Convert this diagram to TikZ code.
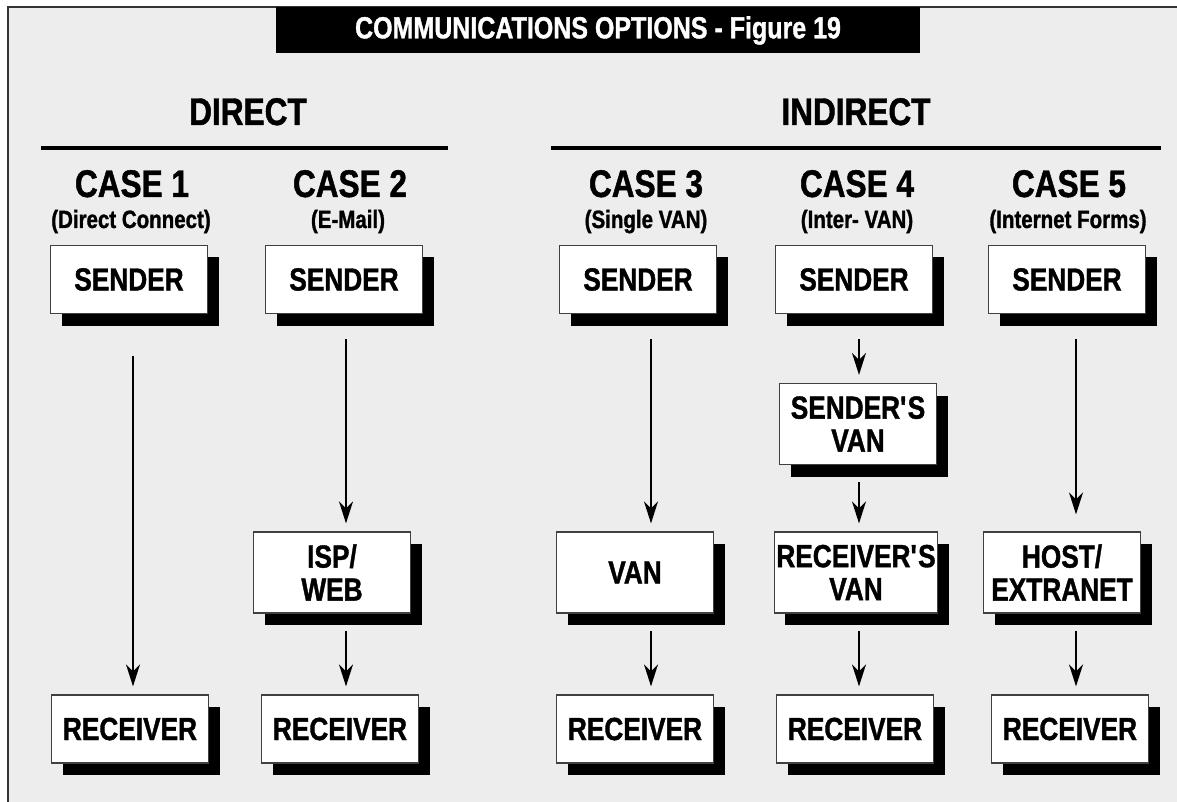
\documentclass[tikz,border=0pt]{standalone}
\usepackage{fontspec}
\setmainfont{Liberation Sans}[FakeStretch=0.82, BoldFeatures={FakeBold=1.2}]
\usetikzlibrary{positioning, arrows.meta, shadows}

\begin{document}
\begin{tikzpicture}[x=1pt, y=-1pt,
      >={Stealth[length=22pt, width=14pt, inset=7pt]},
      box/.style={draw=black!75, line width=1.2pt, fill=white, align=center,
        minimum width=157pt, minimum height=68pt, inner sep=2pt,
        font=\fontsize{32}{33}\selectfont\bfseries,
        drop shadow={shadow xshift=11pt, shadow yshift=-12pt, fill=black, opacity=1}},
      tallbox/.style={box, minimum height=81pt},
      head/.style={anchor=base, inner sep=0pt, font=\fontsize{38.5}{40}\selectfont\bfseries},
      sub/.style={anchor=base, inner sep=0pt, font=\fontsize{25}{26}\selectfont\bfseries},
      flow/.style={->, line width=2pt, shorten <=25pt, shorten >=8pt},
      rule/.style={line width=4.5pt}]
    \useasboundingbox (0,0) rectangle (1177,802);
    % frame
    \fill[black!7] (8,7) rectangle (1177,802);
    \draw[line width=2pt, black!80] (8,802) -- (8,7) -- (1177,7);
    \node[fill=black, text=white, minimum width=644pt, minimum height=46pt, inner sep=0pt,
      font=\fontsize{30.5}{32}\selectfont\bfseries] (title) at (598,30.5)
      {COMMUNICATIONS OPTIONS - Figure 19};

    % groups
    \node[head] (direct) at (248,125) {DIRECT};
    \node[head] (indirect) at (856,125) {INDIRECT};
    \draw[rule] (41,148) -- (448,148);
    \draw[rule] (551,148) -- (1161,148);

    % case headings
    \node[head] (h1) at (132,197) {CASE 1};
    \node[head] (h2) at (350,197) {CASE 2};
    \node[head] (h3) at (646,197) {CASE 3};
    \node[head] (h4) at (857,197) {CASE 4};
    \node[head] (h5) at (1069,197) {CASE 5};
    \node[sub] (t1) at (131,228) {(Direct Connect)};
    \node[sub] (t2) at (348,228) {(E-Mail)};
    \node[sub] (t3) at (646,228) {(Single VAN)};
    \node[sub] (t4) at (857,228) {(Inter- VAN)};
    \node[sub] (t5) at (1068,228) {(Internet Forms)};

    % senders
    \node[box] (s1) at (129,279.5) {SENDER};
    \node[box] (s2) at (344,279.5) {SENDER};
    \node[box] (s3) at (638,279.5) {SENDER};
    \node[box] (s4) at (854,279.5) {SENDER};
    \node[box] (s5) at (1067,279.5) {SENDER};

    % in between
    \node[tallbox] (isp) at (332,572.5) {ISP/\\WEB};
    \node[tallbox] (van) at (635,572.5) {VAN};
    \node[tallbox] (svan) at (858,424) {SENDER\textquotesingle S\\VAN};
    \node[tallbox] (rvan) at (856,572.5) {RECEIVER\textquotesingle S\\VAN};
    \node[tallbox] (host) at (1062,572.5) {HOST/\\EXTRANET};

    % receivers
    \node[box] (r1) at (130,729) {RECEIVER};
    \node[box] (r2) at (340,729) {RECEIVER};
    \node[box] (r3) at (635,729) {RECEIVER};
    \node[box] (r4) at (855,729) {RECEIVER};
    \node[box] (r5) at (1070,729) {RECEIVER};

    % arrows
    \coordinate (a1) at (133,0);
    \coordinate (a2) at (346,0);
    \coordinate (a3) at (651,0);
    \coordinate (a4) at (859,0);
    \coordinate (a5) at (1076,0);
    \draw[flow, shorten <=42pt] (a1 |- s1.south) -- (a1 |- r1.north);
    \draw[flow] (a2 |- s2.south) -- (a2 |- isp.north);
    \draw[flow, shorten <=17pt] (a2 |- isp.south) -- (a2 |- r2.north);
    \draw[flow] (a3 |- s3.south) -- (a3 |- van.north);
    \draw[flow, shorten <=17pt] (a3 |- van.south) -- (a3 |- r3.north);
    \draw[flow] (a4 |- s4.south) -- (a4 |- svan.north);
    \draw[flow, shorten <=17pt] (a4 |- svan.south) -- (a4 |- rvan.north);
    \draw[flow, shorten <=17pt] (a4 |- rvan.south) -- (a4 |- r4.north);
    \draw[flow, shorten >=17pt] (a5 |- s5.south) -- (a5 |- host.north);
    \draw[flow, shorten <=17pt] (a5 |- host.south) -- (a5 |- r5.north);
  \end{tikzpicture}
\end{document}
